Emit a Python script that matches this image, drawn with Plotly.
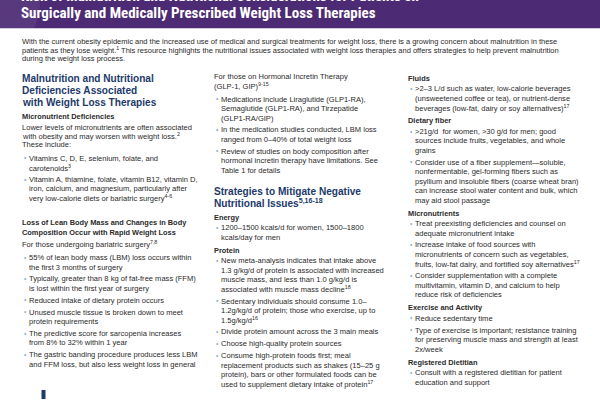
import plotly.graph_objects as go

# ---------------- text content ----------------
title_lines = [
    "Risk of Malnutrition and Nutritional Considerations for Patients on",
    "Surgically and Medically Prescribed Weight Loss Therapies",
]
intro_lines = [
    "With the current obesity epidemic and the increased use of medical and surgical treatments for weight loss, there is a growing concern about malnutrition in these",
    "patients as they lose weight.<sup>1</sup> This resource highlights the nutritional issues associated with weight loss therapies and offers strategies to help prevent malnutrition",
    "during the weight loss process.",
]
left_column = [
    ("head", ["Malnutrition and Nutritional", "Deficiencies Associated", "with Weight Loss Therapies"]),
    ("sub", ["Micronutrient Deficiencies"]),
    ("para", ["Lower levels of micronutrients are often associated",
              "with obesity and may worsen with weight loss.<sup>2</sup>",
              "These include:"]),
    ("bullet", ["Vitamins C, D, E, selenium, folate, and", "carotenoids<sup>3</sup>"]),
    ("bullet", ["Vitamin A, thiamine, folate, vitamin B12, vitamin D,",
                "iron, calcium, and magnesium, particularly after",
                "very low-calorie diets or bariatric surgery<sup>4-6</sup>"]),
    ("lead", ["Loss of Lean Body Mass and Changes in Body", "Composition Occur with Rapid Weight Loss"]),
    ("para", ["For those undergoing bariatric surgery<sup>7,8</sup>"]),
    ("bullet", ["55% of lean body mass (LBM) loss occurs within", "the first 3 months of surgery"]),
    ("bullet", ["Typically, greater than 8 kg of fat-free mass (FFM)", "is lost within the first year of surgery"]),
    ("bullet", ["Reduced intake of dietary protein occurs"]),
    ("bullet", ["Unused muscle tissue is broken down to meet", "protein requirements"]),
    ("bullet", ["The predictive score for sarcopenia increases", "from 8% to 32% within 1 year"]),
    ("bullet", ["The gastric banding procedure produces less LBM", "and FFM loss, but also less weight loss in general"]),
]
middle_column = [
    ("para", ["For those on Hormonal Incretin Therapy", "(GLP-1, GIP)<sup>9-15</sup>"]),
    ("bullet", ["Medications include Liraglutide (GLP1-RA),", "Semaglutide (GLP1-RA), and Tirzepatide", "(GLP1-RA/GIP)"]),
    ("bullet", ["In the medication studies conducted, LBM loss", "ranged from 0\u201340% of total weight loss"]),
    ("bullet", ["Review of studies on body composition after", "hormonal incretin therapy have limitations. See", "Table 1 for details"]),
    ("head", ["Strategies to Mitigate Negative", "Nutritional Issues<sup>5,16-18</sup>"]),
    ("sub", ["Energy"]),
    ("bullet", ["1200\u20131500 kcals/d for women, 1500\u20131800", "kcals/day for men"]),
    ("sub", ["Protein"]),
    ("bullet", ["New meta-analysis indicates that intake above",
                "1.3 g/kg/d of protein is associated with increased",
                "muscle mass, and less than 1.0 g/kg/d is",
                "associated with muscle mass decline<sup>18</sup>"]),
    ("bullet", ["Sedentary individuals should consume 1.0\u2013",
                "1.2g/kg/d of protein; those who exercise, up to",
                "1.5g/kg/d<sup>16</sup>"]),
    ("bullet", ["Divide protein amount across the 3 main meals"]),
    ("bullet", ["Choose high-quality protein sources"]),
    ("bullet", ["Consume high-protein foods first; meal",
                "replacement products such as shakes (15\u201325 g",
                "protein), bars or other formulated foods can be",
                "used to supplement dietary intake of protein<sup>17</sup>"]),
]
right_column = [
    ("sub", ["Fluids"]),
    ("bullet", [">2\u20133 L/d such as water, low-calorie beverages",
                "(unsweetened coffee or tea), or nutrient-dense",
                "beverages (low-fat, dairy or soy alternatives)<sup>17</sup>"]),
    ("sub", ["Dietary fiber"]),
    ("bullet", [">21g/d  for women, >30 g/d for men; good",
                "sources include fruits, vegetables, and whole", "grains"]),
    ("bullet", ["Consider use of a fiber supplement\u2014soluble,",
                "nonfermentable, gel-forming fibers such as",
                "psyllium and insoluble fibers (coarse wheat bran)",
                "can increase stool water content and bulk, which",
                "may aid stool passage"]),
    ("sub", ["Micronutrients"]),
    ("bullet", ["Treat preexisting deficiencies and counsel on", "adequate micronutrient intake"]),
    ("bullet", ["Increase intake of food sources with",
                "micronutrients of concern such as vegetables,",
                "fruits, low-fat dairy, and fortified soy alternatives<sup>17</sup>"]),
    ("bullet", ["Consider supplementation with a complete",
                "multivitamin, vitamin D, and calcium to help",
                "reduce risk of deficiencies"]),
    ("sub", ["Exercise and Activity"]),
    ("bullet", ["Reduce sedentary time"]),
    ("bullet", ["Type of exercise is important; resistance training",
                "for preserving muscle mass and strength at least", "2x/week"]),
    ("sub", ["Registered Dietitian"]),
    ("bullet", ["Consult with a registered dietitian for patient", "education and support"]),
]

# ---------------- styling / layout constants ----------------
PURPLE = "#4d2a74"
NAVY = "#1d3a6a"
TEXT = "#2a2a2a"
BULLET = "#7db1df"
BODY_FONT = "Liberation Sans, Arial, sans-serif"
COND_FONT = "Liberation Sans Narrow, Arial Narrow, Roboto Condensed, Liberation Sans, sans-serif"

styles = {
    "head": dict(size=10.1, color=NAVY, family=BODY_FONT, bold=True, lh=12.2),
    "lead": dict(size=7.4, color=TEXT, family=BODY_FONT, bold=True, lh=10.0),
    "sub": dict(size=7.4, color=TEXT, family=BODY_FONT, bold=True, lh=9.0),
    "para": dict(size=7.55, color=TEXT, family=BODY_FONT, bold=False, lh=8.8),
    "bullet": dict(size=7.55, color=TEXT, family=BODY_FONT, bold=False, lh=9.5),
}
gaps = {
    ("head", "sub"): 14.0, ("sub", "para"): 10.3, ("sub", "bullet"): 10.5,
    ("para", "bullet"): 13.5, ("bullet", "bullet"): 11.8, ("bullet", "sub"): 13.0,
    ("bullet", "lead"): 24.0, ("lead", "para"): 11.7, ("bullet", "head"): 21.0,
}

annotations = []


def add_text(x, y, text, st, color=None, paper_y=False):
    t = f"<b>{text}</b>" if st["bold"] else text
    annotations.append(dict(
        x=x, y=(1 - y / 400.0) if paper_y else y, xref="x", yref="paper" if paper_y else "y",
        text=t, showarrow=False,
        xanchor="left", yanchor="middle", align="left", borderpad=0,
        font=dict(family=st["family"], size=st["size"], color=color or st["color"]),
    ))


def layout_column(blocks, x0, y0):
    y = y0
    prev = None
    for kind, lines in blocks:
        st = styles[kind]
        if prev is not None:
            y += gaps[(prev, kind)]
        for i, line in enumerate(lines):
            if i > 0:
                y += st["lh"]
            if kind == "bullet":
                if i == 0:
                    annotations.append(dict(
                        x=x0 + 2.2, y=y - 0.3, xref="x", yref="y", text="\u2022", showarrow=False,
                        xanchor="left", yanchor="middle", borderpad=0,
                        font=dict(family=BODY_FONT, size=6.5, color=BULLET)))
                add_text(x0 + 7.0, y, line, st)
            else:
                add_text(x0, y, line, st)
        prev = kind


fig = go.Figure()

# header band
fig.add_shape(type="rect", x0=0, x1=600, y0=0, y1=28.5, xref="x", yref="y",
              fillcolor=PURPLE, line=dict(width=0), layer="below")
fig.add_shape(type="circle", x0=-60, x1=40, y0=-60, y1=60, xref="x", yref="y",
              fillcolor="rgba(255,255,255,0.07)", line=dict(width=0), layer="below")
fig.add_shape(type="rect", x0=-1, x1=601, y0=28.5, y1=401, xref="x", yref="y",
              fillcolor="white", line=dict(width=0), layer="below")

title_style = dict(size=15.0, color="white", family=COND_FONT, bold=True)
title_y = [-3.6, 13.4]
for line, ty in zip(title_lines, title_y):
    add_text(20, ty, line, title_style, paper_y=True)

intro_style = dict(size=7.5, color=TEXT, family=BODY_FONT, bold=False)
for i, line in enumerate(intro_lines):
    add_text(20.5, 41.3 + 8.6 * i, line, intro_style)

layout_column(left_column, 20.5, 78.3)
layout_column(middle_column, 213.0, 76.7)
layout_column(right_column, 407.0, 78.3)

# small logo mark bottom-left
fig.add_shape(type="rect", x0=41.5, x1=45.5, y0=390, y1=399, xref="x", yref="y",
              fillcolor=NAVY, line=dict(width=0))

fig.update_layout(
    width=600, height=400, margin=dict(l=0, r=0, t=0, b=0),
    paper_bgcolor="white", plot_bgcolor="white",
    xaxis=dict(range=[0, 600], visible=False, fixedrange=True),
    yaxis=dict(range=[400, 0], visible=False, fixedrange=True),
    annotations=annotations, showlegend=False,
)

fig.write_html("out.html", config={"displayModeBar": False},
               post_script="document.body.style.margin='0';")
